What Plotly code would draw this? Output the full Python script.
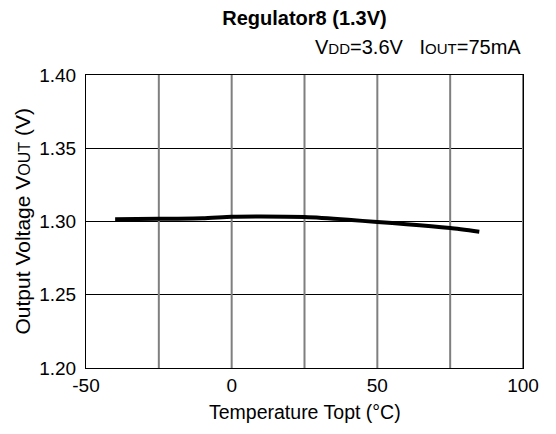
import plotly.graph_objects as go

temps = [-40, -25, -10, 0, 10, 25, 40, 50, 60, 75, 85]
vout = [1.3016, 1.3018, 1.3022, 1.3032, 1.3034, 1.3030, 1.3012, 1.2996, 1.2982, 1.2955, 1.2930]

x_ticks = [-50, -25, 0, 25, 50, 75, 100]
x_labels = ["-50", "", "0", "", "50", "", "100"]
y_ticks = [1.20, 1.25, 1.30, 1.35, 1.40]
y_range = [1.20, 1.40]

FONT = "Liberation Sans, Arial, sans-serif"

# page body has an 8px margin, so the figure is slightly smaller than the window
W, H = 548, 426
L, R, T, B = 78, 33, 67, 66
PW, PH = W - L - R, H - T - B

fig = go.Figure()

# vertical gray grid lines, drawn above the horizontal grid but below the data
gx, gy = [], []
for xv in x_ticks[1:]:
    gx += [xv, xv, None]
    gy += [y_range[0], y_range[1], None]
fig.add_trace(go.Scatter(x=gx, y=gy, mode="lines", line=dict(color="#7f7f7f", width=2),
                         showlegend=False, hoverinfo="skip"))

fig.add_trace(go.Scatter(x=temps, y=vout, mode="lines",
                         line=dict(color="black", width=4, shape="spline", smoothing=0.6),
                         showlegend=False, hoverinfo="skip"))

fig.update_layout(
    width=W, height=H,
    margin=dict(l=L, r=R, t=T, b=B),
    paper_bgcolor="white", plot_bgcolor="white",
    font=dict(family=FONT, size=19, color="black"),
    title=dict(text="<b>Regulator8 (1.3V)</b>", x=(L + PW / 2) / W, xanchor="center",
               y=1 - 10 / H, yanchor="middle", font=dict(size=20, family=FONT)),
    xaxis=dict(range=[-50, 100], tickvals=x_ticks, ticktext=x_labels, showgrid=False,
               zeroline=False, showline=True, linecolor="black", linewidth=1, mirror=True,
               ticks="", tickfont=dict(size=19)),
    yaxis=dict(range=y_range, tickvals=y_ticks, tickformat=".2f", showgrid=True,
               gridcolor="black", gridwidth=1, zeroline=False, showline=True,
               linecolor="black", linewidth=1, mirror=True, ticks="", tickfont=dict(size=19),
               ticklabelstandoff=5),
    annotations=[
        dict(text="V<span style='font-size:15px'>DD</span>=3.6V&nbsp;&nbsp;&nbsp;I<span style='font-size:15px'>OUT</span>=75mA",
             xref="paper", yref="paper", x=1, y=1 + 28 / PH, xanchor="right",
             yanchor="middle", showarrow=False, font=dict(size=20, family=FONT)),
        dict(text="Temperature Topt (°C)", xref="paper", yref="paper", x=0.5,
             y=-44 / PH, xanchor="center", yanchor="middle", showarrow=False,
             font=dict(size=19.5, family=FONT)),
        dict(text="Output Voltage V<span style='font-size:16px'>OUT</span> (V)", xref="paper",
             yref="paper", x=-(L - 14) / PW, y=0.5, xanchor="center", yanchor="middle",
             textangle=-90, showarrow=False, font=dict(size=21, family=FONT)),
    ],
)

fig.write_html("out.html")
